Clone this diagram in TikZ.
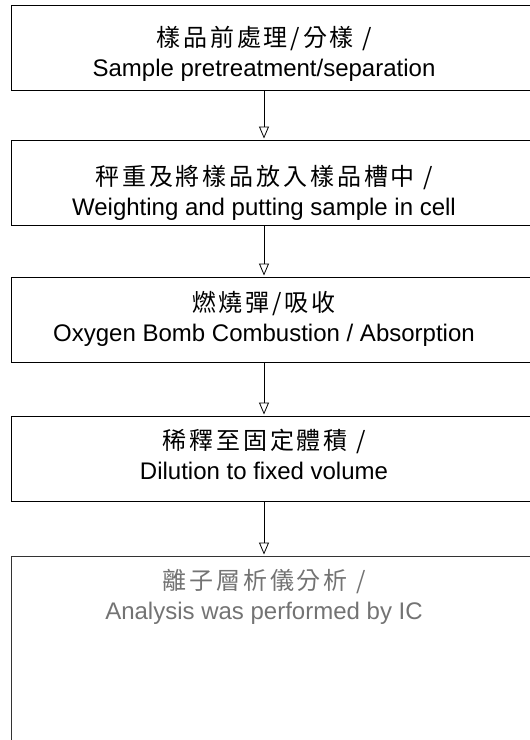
\documentclass[tikz,border=0pt]{standalone}
\usepackage{fontspec}
\setmainfont{Liberation Sans}
\newfontfamily\cjk{Noto Sans CJK TC}[LetterSpace=12]
\usetikzlibrary{arrows.meta}
\begin{document}
\begin{tikzpicture}[x=1pt,y=-1pt,
  stagebox/.style={draw=black, line width=0.9pt, minimum width=549pt, minimum height=85pt, inner sep=0pt, anchor=north west},
  steptext/.style={align=center, font=\fontsize{24}{30}\selectfont, text=black, inner sep=0pt},
  flow/.style={draw=black, line width=0.8pt, -{Triangle[open,length=12pt,width=10pt]}, shorten >=1.5pt}]
\useasboundingbox (0,0) rectangle (530,740);
\clip (0,0) rectangle (530,740);
\node[stagebox] (b1) at (11,5) {};
\node[stagebox] (b2) at (11,140) {};
\node[stagebox] (b3) at (11,277) {};
\node[stagebox] (b4) at (11,416) {};
\node[stagebox, minimum height=200pt, draw=black!80] (b5) at (11,556) {};
\node[steptext] (t1) at (264,54) {{\cjk 樣品前處理/分樣 /}\\Sample pretreatment/separation};
\node[steptext] (t2) at (264,193) {{\cjk 秤重及將樣品放入樣品槽中 /}\\Weighting and putting sample in cell};
\node[steptext] (t3) at (264,319) {{\cjk 燃燒彈/吸收}\\Oxygen Bomb Combustion / Absorption};
\node[steptext] (t4) at (264,454) {{\cjk 稀釋至固定體積 /}\\Dilution to fixed volume};
\node[steptext, text=black!55] (t5) at (264,597) {{\cjk 離子層析儀分析 /}\\Analysis was performed by IC};
\draw[flow] (t1 |- b1.south) -- (t2 |- b2.north);
\draw[flow] (t2 |- b2.south) -- (t3 |- b3.north);
\draw[flow] (t3 |- b3.south) -- (t4 |- b4.north);
\draw[flow] (t4 |- b4.south) -- (t5 |- b5.north);
\end{tikzpicture}
\end{document}
